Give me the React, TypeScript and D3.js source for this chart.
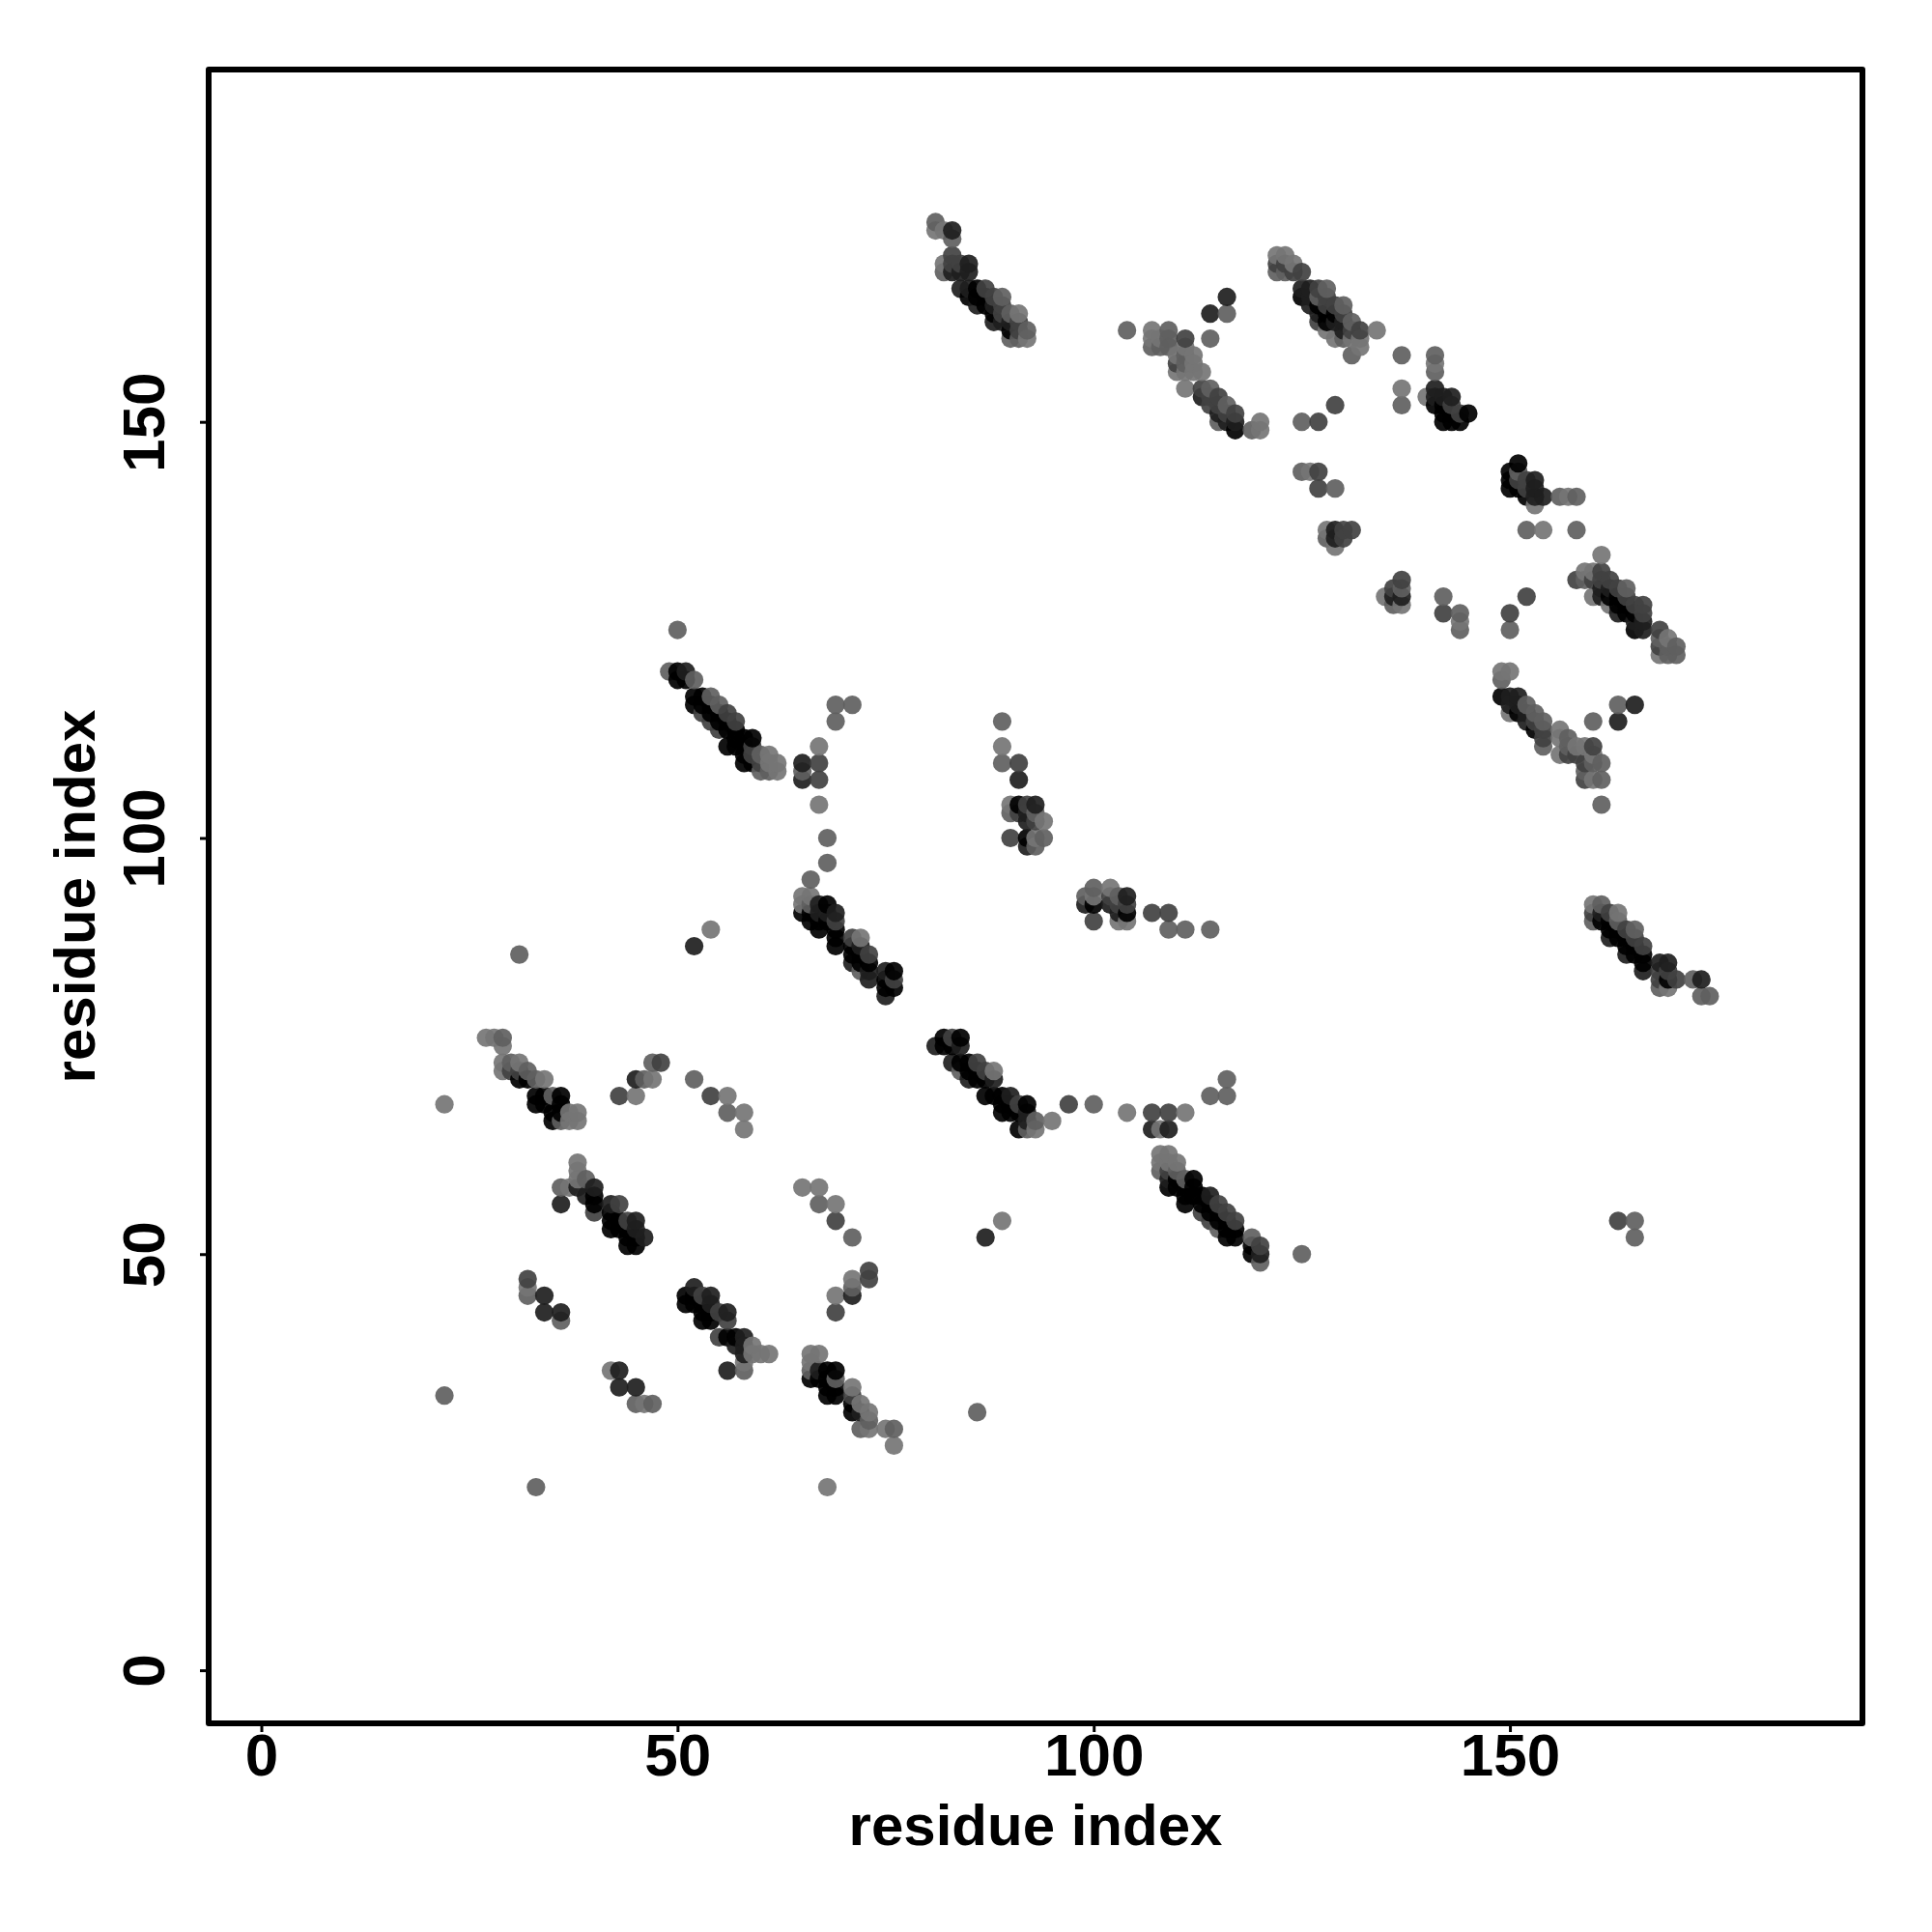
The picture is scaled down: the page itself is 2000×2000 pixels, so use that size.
import { useEffect, useRef } from 'react';
import * as d3 from 'd3';

type Contact = [number, number, number];

// grey levels as they read on white
const L = 0x80;
const G = 0x6c;
const D = 0x50;
const K = 0x30;
const B = 0x14;

const tickValues = [0, 50, 100, 150];
const axisTitle = 'residue index';

const strandA: Contact[] = [
  [27,76,L],[28,76,L],[29,76,G],[29,75,L],[29,73,L],[29,72,L],[30,73,G],[30,72,D],[31,73,L],[31,72,D],[31,71,B],
  [32,72,G],[32,71,B],[33,71,G],[34,71,L],[33,69,B],[33,68,B],[34,69,B],[34,68,B],[35,69,G],[36,69,B],[36,68,B],
  [35,67,B],[35,66,B],[36,67,B],[36,66,G],[37,67,L],[37,66,L],[38,67,L],[38,66,L],
];
const scatterA: Contact[] = [
  [22,68,L],[43,69,D],[45,69,L],[45,71,K],[46,71,G],[47,71,L],[47,73,G],[48,73,D],[52,71,G],[54,69,D],[56,69,L],
  [56,67,G],[58,67,L],[58,65,L],
];
const strandB: Contact[] = [
  [38,61,L],[38,60,L],[36,58,G],[37,58,L],[38,59,L],[39,59,G],[38,58,K],[39,57,K],[40,58,K],[40,57,B],[40,56,B],
  [40,55,D],[36,56,K],[42,56,K],[43,56,D],[42,55,B],[42,54,B],[42,53,B],[43,54,B],[43,53,B],[44,54,D],[44,53,B],
  [44,52,B],[44,51,B],[45,54,K],[45,53,K],[45,52,B],[45,51,B],[46,52,K],
];
const scatterB: Contact[] = [[32,47,D],[32,46,L],[32,45,G],[34,45,K],[34,43,K],[36,43,K],[36,42,G]];
const strandC: Contact[] = [
  [52,46,K],[51,45,B],[51,44,B],[53,45,D],[54,45,K],[52,45,B],[52,44,B],[53,44,B],[53,43,B],[53,42,B],[54,44,K],
  [54,43,B],[54,42,B],[55,43,D],[56,43,K],[56,42,D],[55,40,D],[56,40,B],[57,40,B],[58,40,K],[57,39,K],[58,39,K],
  [58,38,K],[59,39,L],[59,38,L],[60,38,L],[61,38,L],[56,36,K],[58,37,L],[58,36,G],
];
const scatterC: Contact[] = [
  [65,58,L],[67,58,L],[67,56,G],[69,56,L],[69,54,D],[71,52,G],[73,48,D],[73,47,D],[71,47,L],[71,46,G],[71,45,K],
  [69,45,L],[69,43,D],
];
const strandD: Contact[] = [
  [66,38,L],[67,38,L],[66,37,L],[66,36,G],[66,35,B],[67,36,K],[67,35,B],[68,36,B],[69,36,B],[68,35,B],[68,34,B],
  [69,35,G],[69,34,B],[69,33,B],[68,33,B],[71,34,L],[71,33,D],[71,32,B],[72,32,L],[71,31,B],[72,31,K],[73,31,L],
  [72,29,G],[73,30,G],[73,29,L],[75,29,L],[76,29,G],[76,27,L],
];
const scatterD: Contact[] = [
  [22,33,G],[33,22,G],[68,22,L],[42,36,L],[43,36,K],[43,34,K],[45,34,K],[45,32,G],[46,32,L],[47,32,G],
];
const strandE: Contact[] = [
  [50,125,G],[49,120,G],[50,120,B],[50,119,B],[51,120,K],[51,119,B],[52,119,G],[52,117,B],[52,116,B],[53,117,B],
  [53,116,B],[53,115,D],[54,117,G],[54,116,B],[54,114,D],[54,115,B],[55,116,G],[55,115,B],[55,114,B],[55,113,D],
  [56,115,D],[56,114,B],[56,113,B],[56,111,B],[57,114,D],[57,113,B],[57,112,B],[57,111,B],[58,112,B],[58,111,B],
  [58,110,B],[58,109,B],[59,112,B],[59,111,D],[59,110,D],[59,109,B],[60,110,G],[60,109,D],[60,108,G],[61,110,L],
  [61,109,L],[61,108,G],[62,109,L],[62,108,L],
];
const scatterE: Contact[] = [
  [65,109,K],[65,108,G],[65,107,K],[67,111,L],[67,109,D],[67,107,D],[67,104,L],[69,116,G],[71,116,G],[69,114,G],
  [68,100,G],[68,97,G],[66,95,G],[54,89,L],[52,87,K],[31,86,G],
];
const strandF: Contact[] = [
  [65,93,L],[66,93,L],[65,92,L],[65,91,B],[66,92,G],[66,91,B],[66,90,B],[67,92,K],[67,91,K],[67,90,B],[67,89,B],
  [68,92,B],[68,91,K],[68,90,B],[69,91,K],[69,90,D],[69,89,B],[69,88,B],[69,87,B],[71,88,D],[72,88,L],[71,87,B],
  [71,86,B],[71,85,K],[72,87,K],[72,86,B],[72,85,B],[72,84,G],[73,86,D],[73,85,B],[73,84,K],[73,83,K],[75,84,K],
  [76,84,B],[75,83,B],[76,83,D],[75,82,B],[76,82,B],[75,81,K],
];
const strandG: Contact[] = [
  [81,174,G],[81,173,L],[82,173,L],[83,173,K],[83,172,G],[83,170,D],[82,169,L],[82,168,G],[83,169,D],[83,168,K],
  [84,169,D],[84,168,K],[85,169,K],[85,168,K],[84,166,K],[85,166,K],[85,165,B],[86,166,B],[86,165,B],[86,164,K],
  [87,166,D],[87,165,B],[87,164,B],[88,165,D],[88,164,K],[88,163,B],[88,162,K],[89,165,G],[89,164,D],[89,163,D],
  [89,162,K],[90,163,G],[90,162,K],[90,161,B],[90,160,G],[91,163,L],[91,162,D],[91,161,D],[91,160,G],[92,161,G],
  [92,160,L],
];
const strandH: Contact[] = [
  [104,161,G],[107,161,L],[107,160,L],[107,159,G],[108,160,L],[108,159,G],[109,161,G],[109,160,G],[109,159,G],
  [110,158,L],[110,157,D],[110,156,L],[111,160,D],[111,159,L],[111,158,G],[111,157,G],[111,156,L],[112,158,L],
  [112,157,L],[112,156,L],[113,156,L],[111,154,L],[113,154,D],[113,153,K],[114,154,G],[114,153,D],[114,152,D],
  [115,153,D],[115,152,D],[115,151,K],[115,150,G],[116,152,G],[116,151,D],[116,150,K],[117,151,D],[117,150,K],
  [117,149,B],[119,149,G],[120,150,L],[120,149,L],[114,163,K],[116,165,K],[116,163,G],[114,160,G],
];
const strandI: Contact[] = [
  [122,170,L],[123,170,L],[122,169,D],[122,168,G],[123,169,D],[123,168,G],[124,169,L],[124,168,D],[125,168,D],
  [125,166,K],[125,165,B],[126,166,K],[126,165,K],[126,164,K],[127,166,D],[127,165,G],[127,164,B],[127,163,K],
  [127,162,D],[128,166,G],[128,165,D],[128,164,D],[128,163,B],[128,162,B],[128,161,L],[129,164,D],[129,163,B],
  [129,162,K],[129,160,L],[130,164,G],[130,163,D],[130,162,K],[130,161,K],[130,160,G],[131,162,G],[131,161,D],
  [131,160,L],[131,158,G],[132,161,D],[132,160,L],[132,159,L],[134,161,L],
];
const scatterI: Contact[] = [
  [137,158,G],[141,158,G],[141,157,L],[141,156,G],[137,154,L],[137,152,G],[140,153,L],[125,150,G],[127,150,D],
  [129,152,D],[125,144,G],[126,144,L],[127,144,D],[127,142,D],[129,142,G],
];
const strandJ: Contact[] = [
  [141,154,K],[141,153,K],[141,152,B],[142,153,K],[142,152,B],[142,151,B],[142,150,B],[143,153,K],[143,152,D],
  [143,151,B],[143,150,B],[144,151,D],[144,150,B],[145,151,B],
];
const strandK: Contact[] = [
  [128,137,L],[128,136,G],[129,137,K],[129,136,K],[129,135,L],[130,137,D],[130,136,D],[131,137,D],
];
const strandL: Contact[] = [
  [151,145,B],[150,144,B],[150,143,B],[150,142,B],[151,144,G],[151,143,D],[151,142,B],[152,143,D],[152,142,D],
  [152,141,B],[153,143,K],[153,142,K],[153,141,K],[154,141,K],[153,140,L],[156,141,G],[157,141,L],[158,141,G],
  [152,137,G],[154,137,L],[158,137,G],
];
const strandM: Contact[] = [
  [161,134,L],[158,131,D],[159,132,L],[160,132,L],[159,131,G],[160,131,D],[161,132,D],[161,131,D],[160,129,L],
  [161,130,K],[161,129,K],[162,131,D],[162,130,K],[162,129,B],[162,128,L],[163,130,D],[163,129,B],[163,128,B],
  [163,127,K],[164,130,G],[164,129,D],[164,128,B],[164,127,B],[165,128,D],[165,127,B],[165,126,K],[165,125,B],
  [166,128,D],[166,127,D],[166,126,K],[166,125,K],[168,125,D],[168,124,G],[168,123,D],[168,122,L],[169,124,L],
  [169,123,G],[169,122,G],[170,123,G],[170,122,G],
];
const scatterM: Contact[] = [
  [135,129,L],[136,130,D],[136,129,K],[136,128,G],[137,131,D],[137,130,G],[137,129,K],[137,128,L],[142,129,G],
  [142,127,D],[144,127,G],[144,126,L],[144,125,G],[152,129,D],[150,127,D],[150,125,G],
];
const strandN: Contact[] = [
  [149,120,L],[150,120,L],[149,119,G],[149,117,B],[150,117,K],[151,117,K],[150,116,K],[151,116,K],[152,116,G],
  [150,115,L],[151,115,B],[152,115,K],[153,115,G],[152,114,K],[153,114,D],[154,114,G],[153,113,B],[154,113,D],
  [154,111,G],[154,112,D],[156,113,L],[157,112,G],[156,112,L],[156,110,L],[157,111,G],[157,110,D],[158,111,L],
  [158,110,D],[159,111,L],[159,109,D],[159,108,G],[159,107,D],[160,111,D],[160,110,L],[160,109,G],[160,107,L],
  [161,109,G],[161,107,G],[161,104,G],[160,114,G],[163,116,G],[163,114,K],[165,116,K],
];
const strandO: Contact[] = [
  [160,92,L],[160,91,D],[160,90,G],[161,92,G],[161,91,K],[161,90,B],[162,91,D],[162,90,B],[162,89,B],[162,88,K],
  [163,91,L],[163,90,G],[163,89,B],[163,88,B],[164,89,D],[164,88,B],[164,87,B],[164,86,K],[165,89,G],[165,88,D],
  [165,87,B],[165,86,B],[166,87,D],[166,86,B],[166,85,B],[166,84,K],[168,85,K],[168,84,D],[168,83,D],[168,82,G],
  [169,85,K],[169,84,D],[169,83,B],[169,82,L],[170,83,D],[172,83,G],[173,83,K],[173,81,G],[174,81,G],
];
const strandP: Contact[] = [
  [81,75,K],[82,76,B],[83,76,D],[84,76,B],[82,75,B],[83,75,B],[84,75,K],[83,73,K],[84,73,B],[85,73,B],[86,73,D],
  [84,72,G],[85,72,B],[85,71,K],[86,72,B],[86,71,B],[87,72,D],[87,71,B],[88,72,L],[88,71,K],[87,69,B],[88,69,B],
  [89,69,B],[90,69,K],[89,68,B],[89,67,B],[90,68,B],[90,67,B],[91,68,D],[91,67,B],[91,65,B],[92,68,B],[92,67,K],
  [92,66,K],[92,65,G],[93,66,G],[93,65,L],[95,66,L],[97,68,D],[100,68,G],[104,67,L],[107,67,D],[109,67,D],
  [111,67,L],[107,65,K],[108,65,L],[109,65,K],[114,69,G],[116,69,G],[116,71,G],
];
const strandQ: Contact[] = [
  [108,62,L],[109,62,L],[108,61,L],[108,60,G],[109,61,L],[110,61,L],[109,60,D],[109,59,K],[109,58,B],[110,60,G],
  [110,59,B],[110,58,B],[111,59,G],[112,59,B],[111,58,B],[112,58,B],[111,57,B],[111,56,B],[112,57,B],[113,57,B],
  [114,57,K],[113,56,B],[114,56,B],[115,56,D],[113,55,D],[114,55,B],[115,55,B],[116,55,D],[114,54,D],[115,54,B],
  [116,54,B],[117,54,D],[115,53,G],[116,53,B],[117,53,B],[116,52,B],[117,52,B],[119,52,G],[119,51,B],[119,50,B],
  [120,51,D],[120,50,K],[120,49,G],[125,50,G],[89,54,L],[87,52,K],[86,31,G],
];
const strandR: Contact[] = [
  [89,114,G],[89,111,L],[89,109,G],[91,109,D],[91,107,K],[90,104,L],[90,103,G],[90,100,D],[91,104,B],[91,103,D],
  [92,104,D],[92,103,K],[92,102,K],[93,104,K],[93,103,G],[93,102,D],[94,102,L],[92,100,B],[92,99,K],[93,100,L],
  [93,99,G],[94,100,G],
];
const strandS: Contact[] = [
  [99,93,G],[99,92,K],[100,94,G],[100,93,L],[100,92,B],[100,90,D],[102,94,L],[102,93,D],[102,92,K],[103,93,G],
  [103,92,D],[103,91,K],[103,90,L],[104,93,K],[104,92,D],[104,91,B],[104,90,L],[107,91,D],[109,91,D],[109,89,G],
  [111,89,G],[114,89,G],[163,54,D],[165,54,G],[165,52,G],
];

const contacts: Contact[] = [
  strandA, scatterA, strandB, scatterB, strandC, scatterC, strandD, scatterD, strandE, scatterE, strandF,
  strandG, strandH, strandI, scatterI, strandJ, strandK, strandL, strandM, scatterM, strandN, strandO,
  strandP, strandQ, strandR, strandS,
].flat();

const FONT = '"Liberation Sans", Arial, sans-serif';
const DOT_ALPHA = 0.92;

export default function App() {
  const svgRef = useRef<SVGSVGElement>(null);

  useEffect(() => {
    if (!svgRef.current) return;

    const svg = d3.select(svgRef.current);
    svg.selectAll('*').remove();

    const box = { left: 216, right: 1928, top: 72, bottom: 1784 };

    // Scales
    const xScale = d3.scaleLinear().domain([-6.325, 192.35]).range([box.left, box.right]);
    const yScale = d3.scaleLinear().domain([-6.38, 192.33]).range([box.bottom, box.top]);

    // later residues sit on top of earlier ones
    const ordered = [...contacts].sort((a, b) => d3.ascending(a[0], b[0]) || d3.ascending(a[1], b[1]));

    const fill = (seen: number) => {
      const v = Math.max(0, Math.round((seen - (1 - DOT_ALPHA) * 255) / DOT_ALPHA));
      return d3.rgb(v, v, v).formatHex();
    };

    svg.append('g')
      .selectAll('circle')
      .data(ordered)
      .enter().append('circle')
      .attr('cx', d => xScale(d[0]))
      .attr('cy', d => yScale(d[1]))
      .attr('r', 9.6)
      .attr('fill', d => fill(d[2]))
      .attr('fill-opacity', DOT_ALPHA);

    // Axes
    const xAxis = svg.append('g')
      .attr('transform', `translate(0,${box.bottom})`)
      .call(d3.axisBottom(xScale).tickValues(tickValues).tickSize(9).tickSizeOuter(0).tickFormat(d3.format('d') as any));
    const yAxis = svg.append('g')
      .attr('transform', `translate(${box.left},0)`)
      .call(d3.axisLeft(yScale).tickValues(tickValues).tickSize(9).tickSizeOuter(0).tickFormat(d3.format('d') as any));

    [xAxis, yAxis].forEach(axis => {
      axis.select('.domain').remove();
      axis.selectAll('line').attr('stroke', '#000').attr('stroke-width', 3);
      axis.selectAll('text')
        .attr('font-family', FONT)
        .attr('font-weight', 700)
        .attr('font-size', 62)
        .attr('fill', '#000');
    });

    xAxis.selectAll('text')
      .attr('y', 54)
      .attr('dy', 0)
      .attr('text-anchor', 'middle');
    yAxis.selectAll('text')
      .attr('x', 0)
      .attr('dy', 0)
      .attr('text-anchor', 'middle')
      .attr('transform', 'translate(-46,0) rotate(-90)');

    // Box
    svg.append('rect')
      .attr('x', box.left)
      .attr('y', box.top)
      .attr('width', box.right - box.left)
      .attr('height', box.bottom - box.top)
      .attr('fill', 'none')
      .attr('stroke', '#000')
      .attr('stroke-width', 6)
      .attr('stroke-linejoin', 'round');

    // Labels
    svg.append('text')
      .attr('x', (box.left + box.right) / 2)
      .attr('y', 1910)
      .attr('text-anchor', 'middle')
      .attr('font-family', FONT)
      .attr('font-weight', 700)
      .attr('font-size', 60)
      .text(axisTitle);

    svg.append('text')
      .attr('transform', `translate(98,${(box.top + box.bottom) / 2}) rotate(-90)`)
      .attr('text-anchor', 'middle')
      .attr('font-family', FONT)
      .attr('font-weight', 700)
      .attr('font-size', 60)
      .text(axisTitle);
  }, []);

  return (
    <svg
      ref={svgRef}
      width={2000}
      height={2000}
      style={{ position: 'absolute', left: 0, top: 0, background: '#fff' }}
    />
  );
}
